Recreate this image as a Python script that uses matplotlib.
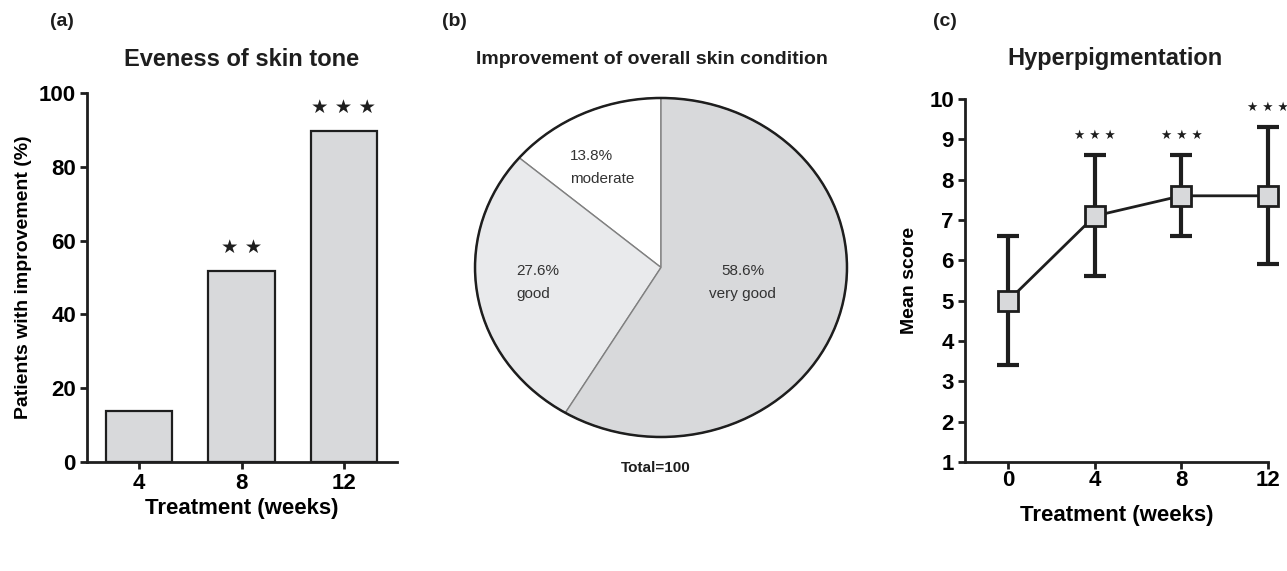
import numpy as np
import matplotlib
matplotlib.use("Agg")
import matplotlib.pyplot as plt
from matplotlib.patches import Circle

plt.rcParams['font.family'] = ['Liberation Sans', 'DejaVu Sans']

# (a) evenness of skin tone
weeks_a = ['4', '8', '12']
pct_improved = [13.8, 51.7, 89.7]
stars_a = ['', '★ ★', '★ ★ ★']

# (b) overall skin condition
pie_labels = ['moderate', 'good', 'very good']
pie_values = [13.8, 27.6, 58.6]
pie_colors = ['#ffffff', '#e9eaec', '#d8d9db']

# (c) hyperpigmentation
weeks_c = [0, 4, 8, 12]
mean_score = [5.0, 7.1, 7.6, 7.6]
err_score = [1.6, 1.5, 1.0, 1.7]
stars_c = ['', '★ ★ ★', '★ ★ ★', '★ ★ ★']

dark = '#1e1e1e'
fig = plt.figure(figsize=(12.87, 5.71), dpi=100)


def style_axes(ax):
    for s in ['top', 'right']:
        ax.spines[s].set_visible(False)
    for s in ['left', 'bottom']:
        ax.spines[s].set_linewidth(2)
        ax.spines[s].set_color(dark)
    ax.tick_params(direction='out', length=5, width=2, color=dark, labelsize=16, pad=3)
    for t in ax.get_xticklabels() + ax.get_yticklabels():
        t.set_fontweight('bold')


# ---- panel a ----
ax1 = fig.add_axes([0.0676, 0.1909, 0.2409, 0.6462])
x = np.arange(len(weeks_a))
ax1.bar(x, pct_improved, width=0.65, color='#d8d9db', edgecolor=dark, linewidth=1.6)
ax1.set_xlim(-0.51, 2.52)
ax1.set_ylim(0, 100)
ax1.set_xticks(x)
ax1.set_xticklabels(weeks_a)
ax1.set_yticks([0, 20, 40, 60, 80, 100])
style_axes(ax1)
ax1.set_xlabel('Treatment (weeks)', fontsize=16, fontweight='bold', labelpad=3)
ax1.set_ylabel('Patients with improvement (%)', fontsize=14, fontweight='bold', labelpad=5)
for xi, v, s in zip(x, pct_improved, stars_a):
    if s:
        ax1.text(xi, v + 6.5, s, ha='center', va='center', fontsize=14,
                 family='DejaVu Sans', color=dark)
fig.text(242 / 1287, 1 - 60 / 571, 'Eveness of skin tone', ha='center', va='center',
         fontsize=17, fontweight='bold', color=dark)
fig.text(50 / 1287, 1 - 22 / 571, '(a)', ha='left', va='center', fontsize=14,
         fontweight='bold', color=dark)

# ---- panel b ----
ax2 = fig.add_axes([0.3691, 0.2347, 0.289, 0.5937])
wedges, _ = ax2.pie(pie_values, colors=pie_colors, startangle=90, counterclock=True,
                    wedgeprops=dict(edgecolor='#808080', linewidth=1))
for w in wedges:
    w.set_clip_on(False)
ax2.set_aspect('auto')
ax2.set_xlim(-1, 1)
ax2.set_ylim(-1, 1)
ax2.add_patch(Circle((0, 0), 1, fill=False, edgecolor=dark, linewidth=1.8, clip_on=False))
label_pos = [(-0.49, 0.59, 'left'), (-0.78, -0.09, 'left'), (0.44, -0.09, 'center')]
for (lx, ly, ha), lab, v in zip(label_pos, pie_labels, pie_values):
    ax2.text(lx, ly, f'{v}%\n{lab}', ha=ha, va='center', fontsize=11,
             linespacing=1.8, color='#333333', multialignment=ha)
fig.text(652 / 1287, 1 - 60 / 571, 'Improvement of overall skin condition', ha='center',
         va='center', fontsize=14, fontweight='bold', color=dark)
fig.text(656 / 1287, 1 - 468 / 571, 'Total=100', ha='center', va='center', fontsize=11,
         fontweight='bold', color=dark)
fig.text(442 / 1287, 1 - 22 / 571, '(b)', ha='left', va='center', fontsize=14,
         fontweight='bold', color=dark)

# ---- panel c ----
ax3 = fig.add_axes([0.7498, 0.1909, 0.2354, 0.6357])
eb = ax3.errorbar(weeks_c, mean_score, yerr=err_score, fmt='none', ecolor=dark,
                  elinewidth=3, capsize=8, capthick=3, zorder=2)
for art in eb.get_children():
    art.set_clip_on(False)
ax3.plot(weeks_c, mean_score, '-', color=dark, lw=2, zorder=3, clip_on=False)
ax3.plot(weeks_c, mean_score, 's', markersize=14, markerfacecolor='#d8d9db',
         markeredgecolor=dark, markeredgewidth=2, zorder=4, clip_on=False)
for xi, m, e, s in zip(weeks_c, mean_score, err_score, stars_c):
    if s:
        ax3.text(xi, m + e + 0.5, s, ha='center', va='center', fontsize=9,
                 family='DejaVu Sans', color=dark, clip_on=False)
ax3.set_xlim(-2, 12)
ax3.set_ylim(1, 10)
ax3.set_xticks(weeks_c)
ax3.set_yticks(range(1, 11))
style_axes(ax3)
ax3.tick_params(axis='x', pad=1)
ax3.set_xlabel('Treatment (weeks)', fontsize=16, fontweight='bold', labelpad=10)
ax3.set_ylabel('Mean score', fontsize=14, fontweight='bold', labelpad=8)
fig.text(1115 / 1287, 1 - 58 / 571, 'Hyperpigmentation', ha='center', va='center',
         fontsize=17, fontweight='bold', color=dark)
fig.text(933 / 1287, 1 - 22 / 571, '(c)', ha='left', va='center', fontsize=14,
         fontweight='bold', color=dark)

fig.savefig('out.png', dpi=100)
